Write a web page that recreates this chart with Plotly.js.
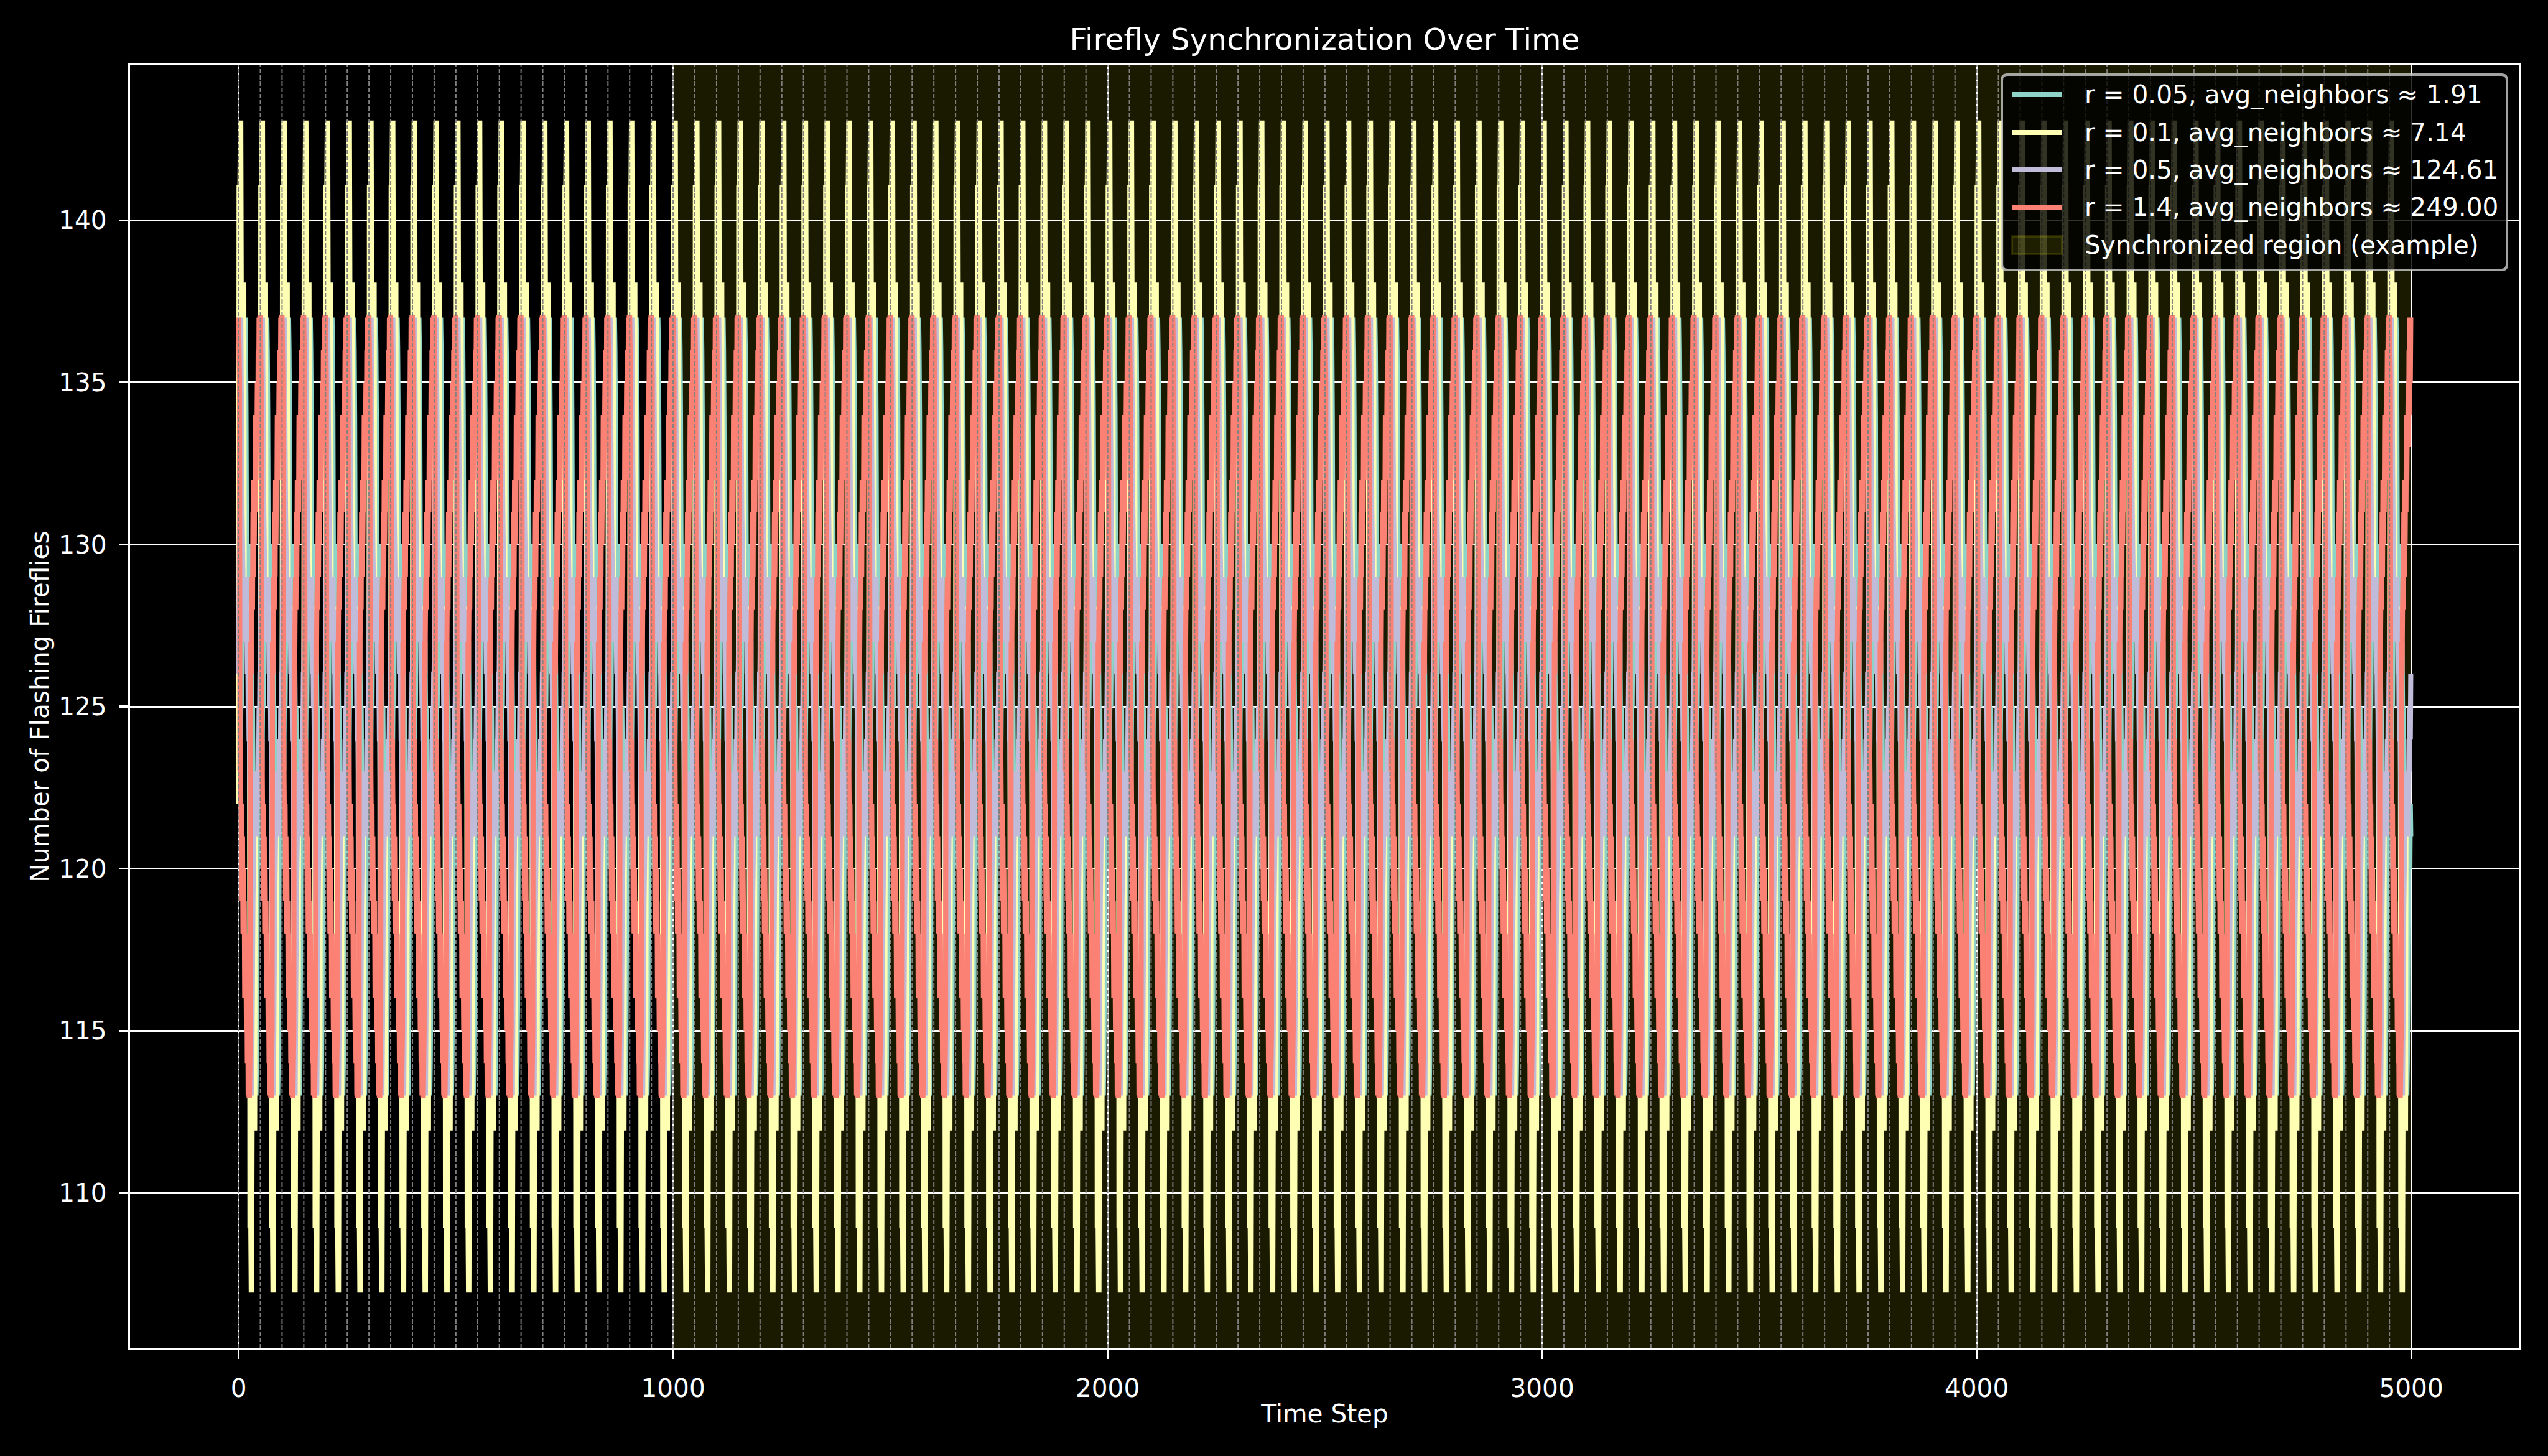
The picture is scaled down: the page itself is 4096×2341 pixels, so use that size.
<!DOCTYPE html>
<html>
<head>
<meta charset="utf-8">
<script src="https://cdn.plot.ly/plotly-3.0.1.min.js"></script>
<style>
html,body{margin:0;padding:0;background:#000;}
#chart{width:4096px;height:2341px;}
</style>
</head>
<body>
<div id="chart"></div>
<script>
// ---------------- data ----------------
const timeStepCount = 5000;
const seriesNames = [
  "r = 0.05, avg_neighbors ≈ 1.91",
  "r = 0.1, avg_neighbors ≈ 7.14",
  "r = 0.5, avg_neighbors ≈ 124.61",
  "r = 1.4, avg_neighbors ≈ 249.00"
];
const seriesColors = ["#8dd3c7", "#feffb3", "#bfbbd9", "#fa8174"];
// one 50-step flash cycle of each series (the cycles repeat unchanged)
const cycleR005 = [122,123,122,124,123,125,126,125,127,128,130,131,133,134,136,137,136,134,130,129,130,129,130,128,129,
                   128,127,128,126,127,125,124,125,123,122,120,119,117,116,114,113,114,116,120,121,120,121,120,122,121];
const cycleR01  = [122,141,141,141,143,143,138,138,138,138,138,138,138,128,128,128,128,128,128,128,128,128,128,128,128,
                   128,109,109,109,107,107,112,112,112,112,112,112,112,122,122,122,122,122,122,122,122,122,122,122,122];
const cycleR05  = [126,128,131,134,136,137,135,133,131,130,129,128,129,127,128,129,128,129,127,128,126,127,125,126,124,
                   124,122,119,116,114,113,115,117,119,120,121,122,121,123,122,121,122,121,123,122,124,123,125,124,126];
const cycleR14  = [137,136,135,123,124,122,121,122,119,121,118,120,118,119,116,118,116,117,115,117,114,116,113,115,113,
                   113,114,115,127,126,128,129,128,131,129,132,130,132,131,134,132,134,133,135,133,136,134,137,135,137];
// flash reference lines (dashed)
const flashTimes = [0,50,100,150,200,250,300,350,400,450,500,550,600,650,700,750,800,850,900,950,
  1000,1050,1100,1150,1200,1250,1300,1350,1400,1450,1500,1550,1600,1650,1700,1750,1800,1850,1900,1950,
  2000,2050,2100,2150,2200,2250,2300,2350,2400,2450,2500,2550,2600,2650,2700,2750,2800,2850,2900,2950,
  3000,3050,3100,3150,3200,3250,3300,3350,3400,3450,3500,3550,3600,3650,3700,3750,3800,3850,3900,3950,
  4000,4050,4100,4150,4200,4250,4300,4350,4400,4450,4500,4550,4600,4650,4700,4750,4800,4850,4900,4950];
const syncRegion = [1000, 5000];
const syncLabel = "Synchronized region (example)";
const xTickVals = [0,1000,2000,3000,4000,5000];
const yTickVals = [110,115,120,125,130,135,140];

// ---------------- build ----------------
const X_RANGE = [-249.95, 5248.95];
const Y_RANGE = [105.2, 144.8];
const F = "DejaVu Sans, Liberation Sans, sans-serif";
const W = 4096, H = 2341;
const M = {l: 209, r: 46, t: 104, b: 173};
const PW = W - M.l - M.r, PH = H - M.t - M.b;
const px = v => (v - M.l) / PW;          // pixel x -> paper x
const py = v => (H - M.b - v) / PH;      // pixel y (from top) -> paper y

function expand(cycle){
  const xs = [], ys = [];
  for (let i = 0; i < timeStepCount; i++){ xs.push(i); ys.push(cycle[i % cycle.length]); }
  return {xs, ys};
}

const traces = [];
[cycleR005, cycleR01, cycleR05, cycleR14].forEach((c, k) => {
  const d = expand(c);
  traces.push({
    type: "scatter", mode: "lines", name: seriesNames[k],
    x: d.xs, y: d.ys, showlegend: false, hoverinfo: "skip",
    line: {color: seriesColors[k], width: 8.1, simplify: false}
  });
});
const vx = [], vy = [];
flashTimes.forEach(t => { vx.push(t, t, null); vy.push(Y_RANGE[0], Y_RANGE[1], null); });
traces.push({
  type: "scatter", mode: "lines", x: vx, y: vy, showlegend: false, hoverinfo: "skip",
  line: {color: "rgb(128,128,128)", width: 2, dash: "7px,3px"}
});

// shaded synchronized region (under the grid, like an axvspan)
const shapes = [{
  type: "rect", xref: "x", yref: "paper", x0: syncRegion[0], x1: syncRegion[1], y0: 0, y1: 1,
  fillcolor: "rgba(255,255,0,0.1)", line: {width: 0}, layer: "below"
}];

// legend (drawn by hand, matplotlib style)
function roundRect(x0, y0, x1, y1, r){
  const X0 = px(x0), X1 = px(x1), Y0 = py(y0), Y1 = py(y1);
  const rx = r / PW, ry = r / PH;
  return `M${X0+rx},${Y0} L${X1-rx},${Y0} Q${X1},${Y0} ${X1},${Y0-ry} L${X1},${Y1+ry} Q${X1},${Y1} ${X1-rx},${Y1} ` +
         `L${X0+rx},${Y1} Q${X0},${Y1} ${X0},${Y1+ry} L${X0},${Y0-ry} Q${X0},${Y0} ${X0+rx},${Y0} Z`;
}
const LG = {left: 3218, right: 4030, top: 120, bottom: 434, rows: [152, 213, 273, 333, 394], h0: 3234, h1: 3315, tx: 3349};
shapes.push({
  type: "path", xref: "paper", yref: "paper", path: roundRect(LG.left, LG.top, LG.right, LG.bottom, 9),
  fillcolor: "rgba(0,0,0,0.8)", line: {color: "rgba(204,204,204,0.8)", width: 4}, layer: "above"
});
const annotations = [];
seriesNames.forEach((name, k) => {
  shapes.push({
    type: "line", xref: "paper", yref: "paper", x0: px(LG.h0), x1: px(LG.h1), y0: py(LG.rows[k]), y1: py(LG.rows[k]),
    line: {color: seriesColors[k], width: 8.1}, layer: "above"
  });
  annotations.push({
    xref: "paper", yref: "paper", x: px(LG.tx), y: py(LG.rows[k]), xanchor: "left", yanchor: "middle",
    text: name, showarrow: false, font: {family: F, size: 40.6, color: "#ffffff"}
  });
});
shapes.push({
  type: "rect", xref: "paper", yref: "paper", x0: px(LG.h0), x1: px(LG.h1), y0: py(LG.rows[4] + 14), y1: py(LG.rows[4] - 14),
  fillcolor: "rgba(255,255,0,0.1)", line: {color: "rgba(255,255,0,0.12)", width: 4}, layer: "above"
});
annotations.push({
  xref: "paper", yref: "paper", x: px(LG.tx), y: py(LG.rows[4]), xanchor: "left", yanchor: "middle",
  text: syncLabel, showarrow: false, font: {family: F, size: 40.6, color: "#ffffff"}
});

const axisCommon = {
  showline: true, mirror: true, linecolor: "#ffffff", linewidth: 3.2,
  showgrid: true, gridcolor: "#ffffff", gridwidth: 3,
  ticks: "outside", ticklen: 14, tickwidth: 3.2, tickcolor: "#ffffff",
  tickfont: {family: F, size: 40.6, color: "#ffffff"},
  zeroline: false, tickmode: "array"
};

const layout = {
  width: W, height: H,
  paper_bgcolor: "#000000", plot_bgcolor: "#000000",
  margin: {l: M.l, r: M.r, t: M.t, b: M.b, pad: 0},
  title: {
    text: "Firefly Synchronization Over Time",
    font: {family: F, size: 48.75, color: "#ffffff"},
    x: 0.5, xref: "paper", xanchor: "center",
    y: 0.9731, yref: "container", yanchor: "middle"
  },
  xaxis: Object.assign({}, axisCommon, {
    range: X_RANGE, tickvals: xTickVals, ticktext: xTickVals.map(String),
    ticklabelstandoff: 12,
    title: {text: "Time Step", font: {family: F, size: 40.6, color: "#ffffff"}, standoff: 4}
  }),
  yaxis: Object.assign({}, axisCommon, {
    range: Y_RANGE, tickvals: yTickVals, ticktext: yTickVals.map(String),
    ticklabelstandoff: 12,
    title: {text: "Number of Flashing Fireflies", font: {family: F, size: 40.6, color: "#ffffff"}, standoff: 4}
  }),
  showlegend: false,
  shapes: shapes,
  annotations: annotations,
  hovermode: false
};

Plotly.newPlot("chart", traces, layout, {displayModeBar: false, staticPlot: true});
</script>
</body>
</html>
